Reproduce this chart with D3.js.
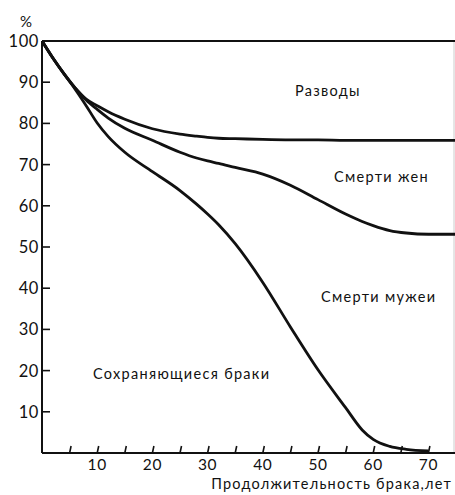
<!DOCTYPE html>
<html>
<head>
<meta charset="utf-8">
<script src="https://cdn.jsdelivr.net/npm/d3@7"></script>
<style>
  body { margin: 0; background: #fff; }
  svg text { font-family: "Lato", "Open Sans", sans-serif; fill: #111; }
</style>
</head>
<body>
<svg id="chart"></svg>
<script>
//data: share of marriages (%) by duration (years)
const years = [0, 2, 4, 6, 8, 10, 12, 15, 20, 25, 28, 30, 32, 35, 40, 45, 50, 55, 58, 60, 63, 66, 70, 75];
const divorceLine = [100, 95.8, 92.0, 88.6, 85.9, 84.3, 82.8, 81.0, 78.7, 77.4, 76.9, 76.6, 76.4, 76.3, 76.1, 76.0, 76.0, 75.9, 75.9, 75.9, 75.9, 75.9, 75.9, 75.9];
const wifeLine = [100, 95.8, 92.0, 88.6, 85.7, 83.4, 81.3, 78.8, 75.9, 73.0, 71.6, 70.9, 70.3, 69.3, 67.7, 65.0, 61.5, 58.0, 56.2, 55.2, 54.0, 53.4, 53.1, 53.1];
const husbandLine = [100, 95.8, 92.0, 88.3, 84.3, 80.1, 76.8, 73.0, 68.3, 63.7, 60.4, 58.0, 55.4, 50.8, 41.4, 30.6, 20.2, 11.0, 5.6, 3.3, 1.6, 0.9, 0.5, null];
const yTicks = [10, 20, 30, 40, 50, 60, 70, 80, 90, 100];
const xTicks = [5, 10, 15, 20, 25, 30, 35, 40, 45, 50, 55, 60, 65, 70];
const xLabels = [10, 20, 30, 40, 50, 60, 70];
const areaLabels = [
  { text: "Разводы", x: 51.8, y: 88 },
  { text: "Смерти жен", x: 61.5, y: 67 },
  { text: "Смерти мужеи", x: 61, y: 38 },
  { text: "Сохраняющиеся браки", x: 25.3, y: 19.3 }
];

const width = 455, height = 495;
const svg = d3.select("#chart").attr("width", width).attr("height", height);

const x = d3.scaleLinear().domain([0, 75]).range([42, 456]);
const y = d3.scaleLinear().domain([0, 100]).range([453, 41]);

//frame
svg.append("line")
  .attr("x1", 454).attr("x2", 454).attr("y1", y(100)).attr("y2", y(0))
  .attr("stroke", "#ccc").attr("stroke-width", 1);
svg.append("line")
  .attr("x1", x(0)).attr("x2", width).attr("y1", y(100)).attr("y2", y(100))
  .attr("stroke", "#111").attr("stroke-width", 2);

//y axis
const yAxis = svg.append("g");
yAxis.append("line")
  .attr("x1", x(0)).attr("x2", x(0)).attr("y1", y(100)).attr("y2", y(0))
  .attr("stroke", "#111").attr("stroke-width", 2);
yAxis.selectAll("line.tick").data(yTicks.filter(d => d < 100)).join("line")
  .attr("class", "tick")
  .attr("x1", x(0)).attr("x2", x(0) + 8)
  .attr("y1", d => y(d)).attr("y2", d => y(d))
  .attr("stroke", "#111").attr("stroke-width", 1.6);
yAxis.selectAll("text").data(yTicks).join("text")
  .attr("x", 39).attr("y", d => y(d)).attr("dy", "0.36em")
  .attr("text-anchor", "end")
  .style("font-size", "16.5px")
  .style("letter-spacing", "0.6px")
  .text(d => d);
svg.append("text").attr("x", 26).attr("y", 27)
  .attr("text-anchor", "middle").style("font-size", "15px").text("%");

//x axis
const xAxis = svg.append("g");
xAxis.append("line")
  .attr("x1", x(0)).attr("x2", width).attr("y1", y(0)).attr("y2", y(0))
  .attr("stroke", "#111").attr("stroke-width", 2);
xAxis.selectAll("line.tick").data(xTicks).join("line")
  .attr("class", "tick")
  .attr("x1", d => x(d)).attr("x2", d => x(d) + 1.5)
  .attr("y1", y(0)).attr("y2", y(0) - 7)
  .attr("stroke", "#111").attr("stroke-width", 1.6);
xAxis.selectAll("text").data(xLabels).join("text")
  .attr("x", d => x(d)).attr("y", 470)
  .attr("text-anchor", "middle")
  .style("font-size", "15.5px")
  .style("letter-spacing", "0.6px")
  .text(d => d);
svg.append("text").attr("x", 452).attr("y", 489)
  .attr("text-anchor", "end").style("font-size", "14.5px")
  .style("letter-spacing", "1.2px")
  .text("Продолжительность брака,лет");

//curves
const line = d3.line()
  .defined(d => d[1] != null)
  .x(d => x(d[0])).y(d => y(d[1]))
  .curve(d3.curveMonotoneX);
[divorceLine, wifeLine, husbandLine].forEach(s => {
  svg.append("path")
    .datum(years.map((yr, i) => [yr, s[i]]))
    .attr("d", line)
    .attr("fill", "none")
    .attr("stroke", "#111")
    .attr("stroke-width", 2.8)
    .attr("stroke-linejoin", "round");
});

//area labels
svg.selectAll("text.area").data(areaLabels).join("text")
  .attr("class", "area")
  .attr("x", d => x(d.x)).attr("y", d => y(d.y)).attr("dy", "0.35em")
  .attr("text-anchor", "middle")
  .style("font-size", "14.5px")
  .style("letter-spacing", "1.3px")
  .text(d => d.text);
</script>
</body>
</html>
